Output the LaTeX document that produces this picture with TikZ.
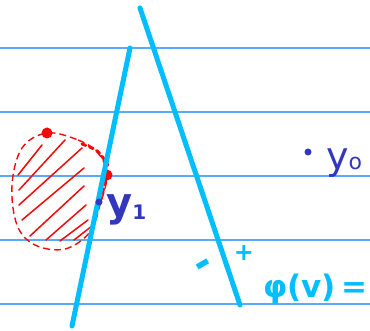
\documentclass[tikz,border=0pt]{standalone}
\usepackage{fontspec}
\setmainfont{DejaVu Sans}
\begin{document}
\begin{tikzpicture}[x=1pt,y=-1pt,
  rule/.style={draw=rulecol,line width=1.3pt},
  thick line/.style={draw=cyanline,line width=5pt,line cap=round},
  blob/.style={draw=redc,line width=1.4pt,dash pattern=on 7pt off 4pt},
  hatch/.style={draw=redc,line width=1.5pt,line cap=round},
  dotred/.style={circle,fill=redc,inner sep=0pt,minimum size=11pt},
  handdark/.style={text=darkblue,font=\fontsize{40}{40}\selectfont\bfseries,inner sep=0pt},
  handcyan/.style={text=cyanline,font=\fontsize{31}{31}\selectfont\bfseries,inner sep=0pt}]
\definecolor{rulecol}{RGB}{90,170,255}
\definecolor{cyanline}{RGB}{0,190,255}
\definecolor{redc}{RGB}{245,10,10}
\definecolor{darkblue}{RGB}{50,55,190}
\useasboundingbox[fill=white] (0,0) rectangle (370,331);
% ruled lines
\foreach \yy in {48,112,176,240,304} \draw[rule] (0,\yy) -- (370,\yy);
% red blob
\draw[blob] plot[smooth cycle,tension=0.6] coordinates {(47,133) (78,140) (98,153) (107,175) (100,205) (90,232) (65,249) (35,245) (17,225) (12,185) (22,148)};
\foreach \a/\b/\c/\d in {18/175/42/145, 19/190/65/140, 19/205/82/148, 22/220/84/168, 30/236/84/186, 46/240/86/205, 60/241/88/220, 74/240/92/226}
  \draw[hatch] (\a,\b) -- (\c,\d);
\draw[redc,line width=3pt,line cap=round,dash pattern=on 4pt off 4pt] (82,144) .. controls (98,150) .. (108,165);
\draw[redc,line width=2.5pt,line cap=round,dash pattern=on 5pt off 4pt] (106,180) -- (101,200);
\node[dotred] (p1) at (47,133) {};
\node[dotred] (p2) at (107,175) {};
% cyan lines
\coordinate (a1) at (130,48);
\coordinate (a2) at (72,326);
\coordinate (b1) at (140,8);
\coordinate (b2) at (240,305);
\draw[thick line] (a1) -- (a2);
\draw[thick line] (b1) -- (b2);
% labels
\node[circle,fill=darkblue,inner sep=0pt,minimum size=7pt] (d1) at (99,202) {};
\node[handdark,anchor=base west] (y1) at (106,217) {y\raisebox{-3pt}{\fontsize{20}{20}\selectfont 1}};
\node[circle,fill=darkblue,inner sep=0pt,minimum size=7pt] (d0) at (308,152) {};
\node[handdark,anchor=base west,font=\fontsize{38}{38}\selectfont] (y0) at (326,170) {y\raisebox{0pt}{\fontsize{22}{22}\selectfont o}};
\node[handcyan,anchor=center,rotate=30,font=\fontsize{40}{40}\selectfont\bfseries] (minus) at (205,268) {-};
\node[handcyan,anchor=base,font=\fontsize{24}{24}\selectfont\bfseries] (plus) at (244,261) {+};
\node[handcyan,anchor=base west] (phi) at (263,298) {φ(v)\,=};
\end{tikzpicture}
\end{document}
